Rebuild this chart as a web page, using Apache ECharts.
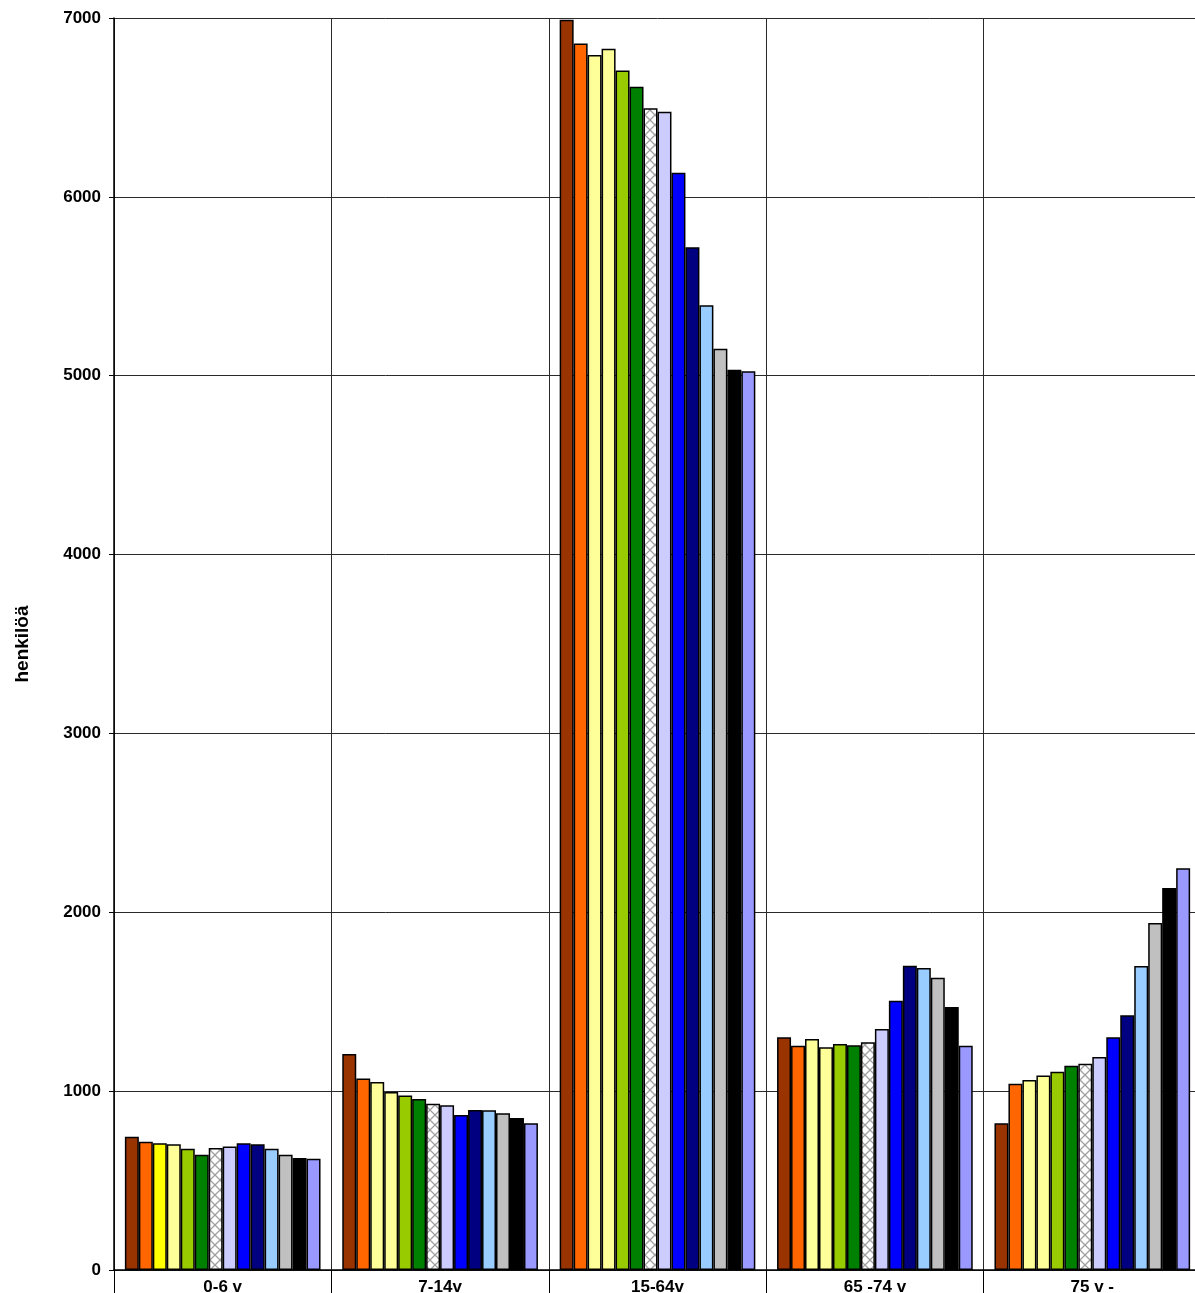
<!DOCTYPE html>
<html>
<head>
<meta charset="utf-8">
<script src="https://cdn.jsdelivr.net/npm/echarts@6/dist/echarts.min.js"></script>
<style>
  html, body { margin: 0; padding: 0; background: #fff; overflow: hidden; }
  #wrap { width: 1195px; height: 1293px; overflow: hidden; position: relative; }
  #chart { width: 1201px; height: 1293px; position: absolute; left: 0; top: 0; }
</style>
</head>
<body>
<div id="wrap"><div id="chart"></div></div>
<script>
const categories = ['0-6 v', '7-14v', '15-64v', '65 -74 v', '75 v -'];

// one array per age group, 14 bars each (left to right)
const group0to6 = [745, 717, 708, 703, 678, 645, 682, 690, 708, 703, 678, 645, 626, 622];
const group7to14 = [1208, 1070, 1051, 995, 975, 956, 930, 921, 867, 895, 893, 876, 850, 820];
const group15to64 = [6990, 6858, 6793, 6828, 6707, 6616, 6495, 6476, 6135, 5718, 5394, 5151, 5034, 5025];
const group65to74 = [1301, 1254, 1292, 1245, 1264, 1256, 1273, 1347, 1506, 1701, 1688, 1634, 1470, 1254];
const group75 = [820, 1042, 1062, 1088, 1109, 1142, 1153, 1191, 1301, 1424, 1700, 1940, 2136, 2246];

const yTicks = [0, 1000, 2000, 3000, 4000, 5000, 6000, 7000];

const groups = [group0to6, group7to14, group15to64, group65to74, group75];

// crosshatch fill for the 7th bar
const hatch = document.createElement('canvas');
hatch.width = 10;
hatch.height = 10;
const ctx = hatch.getContext('2d');
ctx.fillStyle = '#fff';
ctx.fillRect(0, 0, 10, 10);
ctx.strokeStyle = '#a0a0a0';
ctx.lineWidth = 1.3;
ctx.beginPath();
ctx.moveTo(0, 0); ctx.lineTo(10, 10);
ctx.moveTo(10, 0); ctx.lineTo(0, 10);
ctx.stroke();

const colors = [
  '#993300', '#FF6600', '#FFFF99', '#FFFF99', '#99CC00', '#008000',
  {image: hatch, repeat: 'repeat'},
  '#CCCCFF', '#0000FF', '#000080', '#99CCFF', '#C0C0C0', '#000000', '#9999FF'
];

const font = {fontFamily: 'Liberation Sans, Arial, sans-serif', fontWeight: 'bold', fontSize: 17, color: '#000'};

const series = colors.map((c, i) => ({
  type: 'bar',
  barGap: '0%',
  barCategoryGap: '10%',
  itemStyle: {color: c, borderColor: '#000', borderWidth: 1.5},
  data: groups.map((g, gi) => {
    // first bar group has a bright yellow third bar
    if (i === 2 && gi === 0) return {value: g[i], itemStyle: {color: '#FFFF00'}};
    return g[i];
  })
}));

const chart = echarts.init(document.getElementById('chart'));
chart.setOption({
  animation: false,
  grid: {left: 114, top: 18, right: 0, bottom: 23, containLabel: false, outerBoundsMode: 'none'},
  xAxis: {
    type: 'category',
    data: categories,
    axisLine: {lineStyle: {color: '#000', width: 1.5}},
    axisTick: {show: true, length: 25, lineStyle: {color: '#000'}},
    axisLabel: Object.assign({margin: 9}, font),
    splitLine: {show: true, lineStyle: {color: '#2a2a2a', width: 1}}
  },
  yAxis: {
    type: 'value',
    min: yTicks[0],
    max: yTicks[yTicks.length - 1],
    interval: 1000,
    name: 'henkilöä',
    nameLocation: 'middle',
    nameGap: 82,
    nameTextStyle: Object.assign({}, font, {fontSize: 19}),
    axisLine: {show: true, lineStyle: {color: '#000', width: 1.5}},
    axisTick: {show: true, length: 5, lineStyle: {color: '#000'}},
    axisLabel: Object.assign({margin: 13, formatter: v => String(v)}, font),
    splitLine: {show: true, lineStyle: {color: '#2a2a2a', width: 1}}
  },
  series: series
});
</script>
</body>
</html>
